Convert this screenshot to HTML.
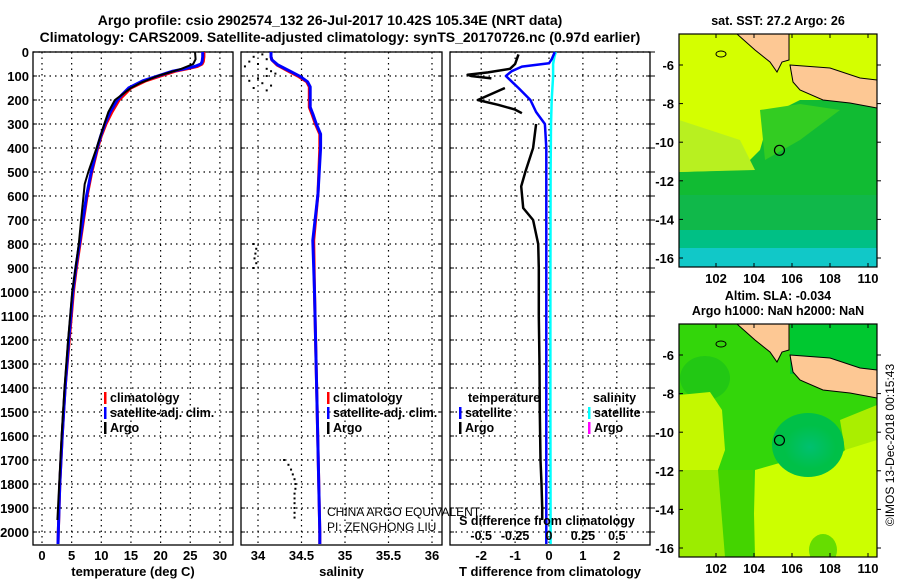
<!DOCTYPE html>
<html><head><meta charset="utf-8">
<style>
html,body{margin:0;padding:0;background:#fff;}
svg{display:block;font-family:"Liberation Sans",sans-serif;font-weight:bold;}
</style></head>
<body>
<svg id="chart" width="900" height="580" viewBox="0 0 900 580">
<text x="330" y="25" font-size="14" text-anchor="middle">Argo profile: csio 2902574_132 26-Jul-2017 10.42S 105.34E (NRT data)</text>
<text x="340" y="42" font-size="14" text-anchor="middle">Climatology: CARS2009. Satellite-adjusted climatology: synTS_20170726.nc (0.97d earlier)</text>
<g id="panels"></g>
<g id="maps"></g>
<text transform="translate(894,445) rotate(-90)" font-size="12" font-weight="normal" text-anchor="middle">©IMOS 13-Dec-2018 00:15:43</text>
</svg>
<script>
// ---- data ----
const depthTicks=[0,100,200,300,400,500,600,700,800,900,1000,1100,1200,1300,1400,1500,1600,1700,1800,1900,2000];
const tempTicks=[0,5,10,15,20,25,30];
const salTicks=[34,34.5,35,35.5,36];
const salTickLabels=["34","34.5","35","35.5","36"];
const tdTicks=[-2,-1,0,1,2];
const sdTicks=[-0.5,-0.25,0,0.25,0.5];
const sdTickLabels=["-0.5","-0.25","0","0.25","0.5"];
const climDepth=[0,20,40,50,60,70,80,100,120,150,180,200,250,300,350,400,500,600,700,800,900,1000,1200,1400,1600,1800,2000,2050];
const climTemp=[27.3,27.3,27.2,27,26.2,24.5,22.5,20,17.5,15,13.8,13,11.8,10.8,10,9.4,8.4,7.6,7.0,6.4,5.8,5.3,4.6,3.9,3.4,3.0,2.75,2.7];
const satTemp=[27.1,27.1,27,26.8,25.8,24,22,19.5,17,14.6,13.4,12.7,11.5,10.6,9.9,9.3,8.3,7.5,6.9,6.3,5.7,5.2,4.5,3.9,3.4,3.0,2.75,2.7];
const salDepth=[0,20,33,54,82,103,124,145,230,258,300,342,400,590,785,1000,1500,2000,2050];
const climSal=[34.15,34.15,34.16,34.22,34.36,34.47,34.56,34.59,34.59,34.62,34.66,34.71,34.71,34.69,34.64,34.65,34.68,34.71,34.71];
const satSal=[34.15,34.15,34.16,34.23,34.38,34.49,34.57,34.6,34.6,34.63,34.67,34.72,34.72,34.69,34.63,34.65,34.68,34.71,34.71];
const argoDepth=[0,30,50,70,100,130,150,200,250,300,400,500,550,600,700,800,1000,1200,1400,1600,1800,1950];
const argoTemp=[25.8,25.9,25.5,23.5,19.5,16.5,15,12.3,11.2,10.5,9.2,7.8,7.2,7.0,6.6,6.2,5.1,4.4,3.8,3.3,2.9,2.6];
const argoSalDepth=[10,20,30,40,50,60,70,80,90,100,110,120,130,140,150,160,800,820,840,860,880,900,1700,1720,1740,1760,1780,1800,1820,1840,1860,1880,1900,1920,1940];
const argoSal=[34.05,33.95,34.1,33.9,34.0,33.85,34.1,34.15,34.2,34.1,34.0,33.9,34.05,34.15,33.95,34.1,33.95,33.98,33.97,33.96,33.98,33.95,34.3,34.35,34.38,34.4,34.42,34.43,34.43,34.42,34.42,34.42,34.42,34.42,34.42];
const argoTdDepth=[10,30,50,70,85,95,100,110,130,150,200,220,240,255,290,300,400,500,560,650,700,800,900,1100,1300,1500,1700,1800,1900,1950];
const argoTd=[-0.9,-0.95,-1.0,-1.15,-1.8,-2.4,-2.3,-1.7,null,-1.3,-2.1,-1.5,-1.0,-0.8,null,-0.38,-0.47,-0.7,-0.82,-0.76,-0.47,-0.32,-0.3,-0.3,-0.28,-0.27,-0.25,-0.22,-0.2,-0.2];
const satTdDepth=[0,30,47,61,80,100,130,150,200,250,300,400,600,1000,1500,2000,2050];
const satTd=[0.17,0.08,0,-0.8,-1.1,-1.27,-1.05,-0.9,-0.55,-0.38,-0.12,-0.08,-0.08,-0.08,-0.08,-0.08,-0.08];
const satSdDepth=[0,20,50,100,150,200,300,500,1000,1500,2000,2050];
const satSd=[0.05,0.04,0.03,0.03,0.025,0.02,0.015,0.012,0.01,0.01,0.012,0.012];
const lonTicks=[102,104,106,108,110];
const latTicks=[-6,-8,-10,-12,-14,-16];

const NS="http://www.w3.org/2000/svg";
function mk(tag,attrs,parent){const e=document.createElementNS(NS,tag);for(const k in attrs)e.setAttribute(k,attrs[k]);parent.appendChild(e);return e;}
const P=document.getElementById('panels');
const yD=d=>52+d*0.24;
const TOP=52,BOT=545;
const panels=[
 {l:33,r:233,x:v=>42+v*5.93,ticks:tempTicks,labels:tempTicks.map(String),title:"temperature (deg C)",name:"temperature-panel"},
 {l:241,r:442,x:v=>258+(v-34)*87,ticks:salTicks,labels:salTickLabels,title:"salinity",name:"salinity-panel"},
 {l:450,r:650,x:v=>549+v*33.9,ticks:tdTicks,labels:tdTicks.map(String),title:"T difference from climatology",name:"difference-panel"}
];
panels.forEach((p,i)=>{
 const g=mk('g',{},P);
 
 
 depthTicks.forEach(d=>{
  const ln=mk('line',{x1:p.l,x2:p.r,y1:yD(d),y2:yD(d),stroke:'#000','stroke-width':1.2,'stroke-dasharray':'1.5,4'},g);
  
  
  if(i===0){
   const t=mk('text',{x:29,y:yD(d)+5,'font-size':13,'text-anchor':'end'},g);t.textContent=d;
   
   
  }
  mk('line',{x1:p.l,x2:p.l+4,y1:yD(d),y2:yD(d),stroke:'#000'},g);
  mk('line',{x1:p.r,x2:p.r-4,y1:yD(d),y2:yD(d),stroke:'#000'},g);
  if(i===2) mk('line',{x1:p.r,x2:p.r+5,y1:yD(d),y2:yD(d),stroke:'#000'},g);
 });
 p.ticks.forEach((v,j)=>{
  const x=p.x(v);
  const ln=mk('line',{x1:x,x2:x,y1:TOP,y2:BOT,stroke:'#000','stroke-width':1.2,'stroke-dasharray':'1.5,4'},g);
  
  
  const t=mk('text',{x:x,y:560,'font-size':13,'text-anchor':'middle'},g);t.textContent=p.labels[j];
  
  
 });
 const f=mk('rect',{x:p.l,y:TOP,width:p.r-p.l,height:BOT-TOP,fill:'none',stroke:'#000','stroke-width':1.3},g);
 
 
 const tt=mk('text',{x:(p.l+p.r)/2,y:576,'font-size':13,'text-anchor':'middle'},g);tt.textContent=p.title;
 
 
});
function line(xs,ds,xf,color,w,name){
 let d='',pen=false;
 for(let i=0;i<ds.length;i++){
  if(xs[i]===null){pen=false;continue;}
  d+=(pen?'L':'M')+xf(xs[i]).toFixed(1)+','+yD(ds[i]).toFixed(1);pen=true;
 }
 const e=mk('path',{d:d,fill:'none',stroke:color,'stroke-width':w,'stroke-linejoin':'round'},P);
 
 
}
const [pt,ps,pd]=panels;
line(climTemp,climDepth,pt.x,'#f00',3,'climatology-temperature-line');
line(satTemp,climDepth,pt.x,'#00f',3,'satellite-temperature-line');
line(argoTemp,argoDepth,pt.x,'#000',2,'argo-temperature-line');
line(climSal,salDepth,ps.x,'#f00',3,'climatology-salinity-line');
line(satSal,salDepth,ps.x,'#00f',3,'satellite-salinity-line');
argoSal.forEach((v,i)=>{
 const r=mk('rect',{x:ps.x(v)-1,y:yD(argoSalDepth[i])-1,width:2,height:2,fill:'#000'},P);
 
 
});
line(satSd.map(v=>v*4),satSdDepth,pd.x,'#0ff',2.5,'satellite-salinity-diff-line');
line(satTd,satTdDepth,pd.x,'#00f',2.5,'satellite-temperature-diff-line');
line(argoTd,argoTdDepth,pd.x,'#000',2.5,'argo-temperature-diff-line');
(function(){
 const t=mk('text',{x:547,y:525,'font-size':12.5,'text-anchor':'middle'},P);t.textContent='S difference from climatology';
 
 
 sdTicks.forEach((v,j)=>{
  const l=mk('text',{x:pd.x(v*4),y:540,'font-size':12.5,'text-anchor':'middle'},P);l.textContent=sdTickLabels[j];
  
  
 });
 const c1=mk('text',{x:327,y:516,'font-size':12,'font-weight':'normal'},P);c1.textContent='CHINA ARGO EQUIVALENT';
 
 
 const c2=mk('text',{x:327,y:531,'font-size':12,'font-weight':'normal'},P);c2.textContent='PI: ZENGHONG LIU';
 
 
})();
function legend(x,y,items,name){
 const g=mk('g',{},P);
 
 
 items.forEach((it,i)=>{
  const yy=y+i*15;
  if(it[0]) mk('rect',{x:x,y:yy-10,width:2.5,height:12,fill:it[0]},g);
  const t=mk('text',{x:x+(it[0]?6:0),y:yy,'font-size':12.5},g);t.textContent=it[1];
  
  
 });
}
legend(104,402,[['#f00','climatology'],['#00f','satellite-adj. clim.'],['#000','Argo']],'temperature-legend');
legend(327,402,[['#f00','climatology'],['#00f','satellite-adj. clim.'],['#000','Argo']],'salinity-legend');
legend(468,402,[[null,'temperature']],'diff-legend-title-t');
legend(459,417,[['#00f','satellite'],['#000','Argo']],'diff-legend-t');
legend(593,402,[[null,'salinity']],'diff-legend-title-s');
legend(588,417,[['#0ff','satellite'],['#f0f','Argo']],'diff-legend-s');

// ---- maps ----
const M=document.getElementById('maps');
function map(oy,title,fills,name){
 const g=mk('g',{},M);
 
 
 const mx=lon=>716+(lon-102)*19, my=lat=>oy+65+(-6-lat)*19.3;
 const L=679,R=877,T=oy+34,B=oy+267;
 const cid='clip'+oy;
 const cp=mk('clipPath',{id:cid},g);mk('rect',{x:L,y:T,width:R-L,height:B-T},cp);
 const inner=mk('g',{'clip-path':'url(#'+cid+')'},g);
 fills(inner,L,T,R,B,oy);
 mk('polygon',{points:'737,'+T+' 789,'+T+' 789,'+(oy+60)+' 782,'+(oy+62)+' 777,'+(oy+72)+' 770,'+(oy+62)+' 755,'+(oy+50),fill:'#fdc894',stroke:'#000','stroke-width':1},inner);
 mk('polygon',{points:'790,'+(oy+65)+' 830,'+(oy+68)+' 860,'+(oy+78)+' 877,'+(oy+80)+' 877,'+(oy+108)+' 850,'+(oy+103)+' 823,'+(oy+100)+' 800,'+(oy+90)+' 793,'+(oy+82),fill:'#fdc894',stroke:'#000','stroke-width':1},inner);
 mk('ellipse',{cx:721,cy:oy+54,rx:5,ry:3,fill:'none',stroke:'#000'},inner);
 const mk1=mk('circle',{cx:mx(105.34),cy:my(-10.42),r:5,fill:'none',stroke:'#000','stroke-width':1.2},g);
 
 
 mk('rect',{x:L,y:T,width:R-L,height:B-T,fill:'none',stroke:'#000','stroke-width':1.2},g);
 lonTicks.forEach(v=>{
  mk('line',{x1:mx(v),x2:mx(v),y1:B,y2:B-4,stroke:'#000'},g);
  mk('line',{x1:mx(v),x2:mx(v),y1:T,y2:T+4,stroke:'#000'},g);
  const t=mk('text',{x:mx(v),y:B+16,'font-size':13,'text-anchor':'middle'},g);t.textContent=v;
  
  
 });
 latTicks.forEach(v=>{
  mk('line',{x1:L,x2:L+4,y1:my(v),y2:my(v),stroke:'#000'},g);
  mk('line',{x1:R,x2:R+4,y1:my(v),y2:my(v),stroke:'#000'},g);
  const t=mk('text',{x:L-5,y:my(v)+5,'font-size':13,'text-anchor':'end'},g);t.textContent=v;
  
  
 });
 title.forEach((s,i)=>{
  const t=mk('text',{x:778,y:oy+25+i*15-(title.length-1)*15,'font-size':12.5,'text-anchor':'middle'},g);t.textContent=s;
  
  
 });
}
map(0,['sat. SST: 27.2 Argo: 26'],(g,L,T,R,B)=>{
 mk('rect',{x:L,y:T,width:R-L,height:B-T,fill:'#11bb33'},g);
 mk('polygon',{points:`${L},${T} ${R},${T} ${R},100 800,100 770,115 760,150 740,170 ${L},172`,fill:'#d4ff00'},g);
 mk('polygon',{points:`${L},120 740,140 755,170 ${L},172`,fill:'#b8f020'},g);
 mk('polygon',{points:`760,110 800,104 840,110 800,140 765,160`,fill:'#33cc22'},g);
 mk('rect',{x:L,y:195,width:R-L,height:35,fill:'#10b84a'},g);
 mk('rect',{x:L,y:230,width:R-L,height:20,fill:'#00c085'},g);
 mk('rect',{x:L,y:248,width:R-L,height:20,fill:'#11c8c8'},g);
},'sst-map');
map(290,['Altim. SLA: -0.034','Argo h1000: NaN h2000: NaN'],(g,L,T,R,B)=>{
 const defs=mk('defs',{},g);
 const rg=mk('radialGradient',{id:'blob1',cx:'0.5',cy:'0.5',r:'0.5'},defs);
 mk('stop',{offset:'0','stop-color':'#00c070'},rg);mk('stop',{offset:'1','stop-color':'#00c070','stop-opacity':0},rg);
 mk('rect',{x:L,y:T,width:R-L,height:B-T,fill:'#33d60a'},g);
 mk('rect',{x:790,y:T,width:87,height:50,fill:'#00c830'},g);
 mk('ellipse',{cx:705,cy:378,rx:25,ry:22,fill:'#22c814'},g);
 mk('polygon',{points:`${L},395 710,392 722,410 725,450 718,470 ${L},470`,fill:'#c4f800'},g);
 mk('polygon',{points:`753,${B} 755,470 790,460 830,462 ${R},425 ${R},${B}`,fill:'#ccff00'},g);
 mk('polygon',{points:`840,420 ${R},405 ${R},440 845,450`,fill:'#aaee00'},g);
 mk('polygon',{points:`${L},470 718,470 740,500 745,${B} ${L},${B}`,fill:'#9cec00'},g);
 mk('polygon',{points:`718,470 753,470 755,${B} 725,${B}`,fill:'#44d400'},g);
 mk('ellipse',{cx:823,cy:550,rx:14,ry:16,fill:'#66dd00'},g);
 mk('ellipse',{cx:808,cy:445,rx:36,ry:32,fill:'#00c048'},g);
 mk('ellipse',{cx:810,cy:447,rx:26,ry:22,fill:'url(#blob1)'},g);
},'sla-map');
</script>
</body></html>
